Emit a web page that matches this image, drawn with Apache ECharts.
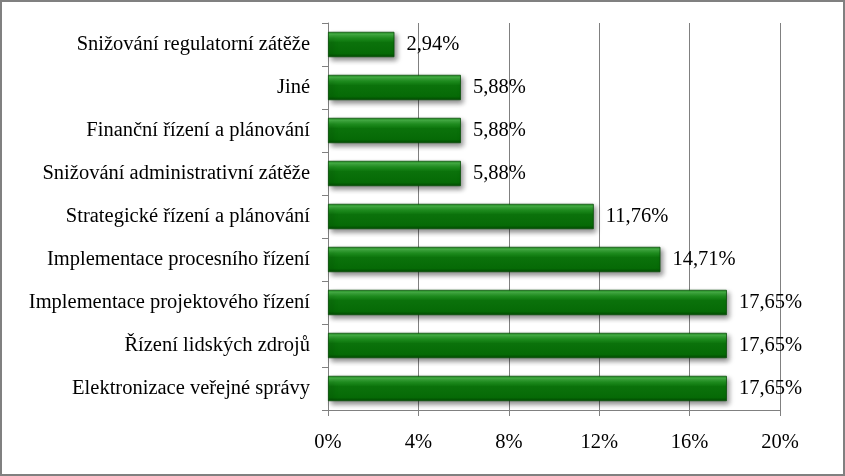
<!DOCTYPE html>
<html>
<head>
<meta charset="utf-8">
<script src="https://cdn.jsdelivr.net/npm/echarts@6/dist/echarts.min.js"></script>
<style>
html,body{margin:0;padding:0;background:#fff;}
#frame{position:absolute;left:0;top:0;width:845px;height:476px;box-sizing:border-box;border:2px solid #808080;}
#chart{position:absolute;left:0;top:0;width:845px;height:476px;}
</style>
</head>
<body>
<div id="frame"></div>
<div id="chart"></div>
<script>
const categories = [
  'Elektronizace veřejné správy',
  'Řízení lidských zdrojů',
  'Implementace projektového řízení',
  'Implementace procesního řízení',
  'Strategické řízení a plánování',
  'Snižování administrativní zátěže',
  'Finanční řízení a plánování',
  'Jiné',
  'Snižování regulatorní zátěže'
];
const values = [17.65, 17.65, 17.65, 14.71, 11.76, 5.88, 5.88, 5.88, 2.94];
const xTicks = [0, 4, 8, 12, 16, 20];

const font = 'Liberation Serif, DejaVu Serif, serif';
const fs = 20.5;
const chart = echarts.init(document.getElementById('chart'));
chart.setOption({
  animation: false,
  grid: { left: 328, right: 65, top: 23, bottom: 66, containLabel: false },
  xAxis: {
    type: 'value', min: xTicks[0], max: xTicks[xTicks.length - 1], interval: 4,
    axisLine: { show: true, lineStyle: { color: '#808080', width: 1 } },
    axisTick: { show: true, length: 6, lineStyle: { color: '#808080' } },
    axisLabel: { margin: 22, color: '#000', fontFamily: font, fontSize: fs, formatter: v => v + '%' },
    splitLine: { show: true, lineStyle: { color: '#808080', width: 1 } }
  },
  yAxis: {
    type: 'category', data: categories,
    axisLine: { show: true, lineStyle: { color: '#808080', width: 1 } },
    axisTick: { show: true, length: 6, lineStyle: { color: '#808080' } },
    axisLabel: { margin: 18, color: '#000', fontFamily: font, fontSize: fs }
  },
  series: [{
    type: 'bar', data: values, barCategoryGap: '41%',
    itemStyle: {
      color: new echarts.graphic.LinearGradient(0, 0, 0, 1, [
        { offset: 0, color: '#1f8f1f' },
        { offset: 0.1, color: '#45b045' },
        { offset: 0.25, color: '#1f8f1f' },
        { offset: 0.42, color: '#0b720b' },
        { offset: 0.85, color: '#066a06' },
        { offset: 1, color: '#034a03' }
      ]),
      borderColor: '#0a4f0a', borderWidth: 0.8,
      shadowColor: 'rgba(0,0,0,0.45)', shadowBlur: 5, shadowOffsetX: 3, shadowOffsetY: 3
    },
    label: {
      show: true, position: 'right', distance: 12, color: '#000', fontFamily: font, fontSize: fs,
      formatter: p => p.value.toFixed(2).replace('.', ',') + '%'
    }
  }]
});
</script>
</body>
</html>
